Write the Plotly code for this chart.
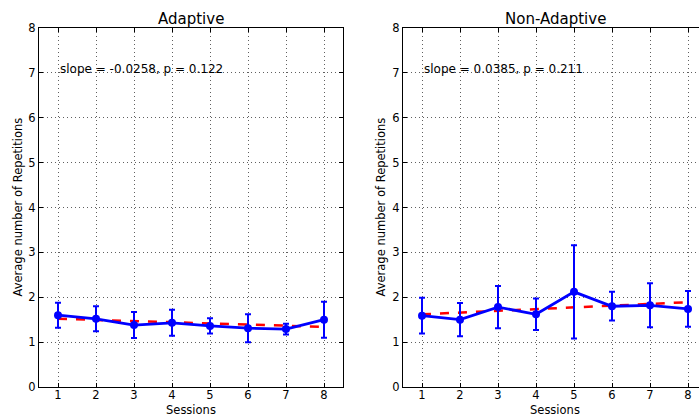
import plotly.graph_objects as go

sessions = [1, 2, 3, 4, 5, 6, 7, 8]

adaptive_mean = [1.60, 1.52, 1.38, 1.43, 1.36, 1.31, 1.29, 1.50]
adaptive_err = [0.28, 0.28, 0.29, 0.29, 0.17, 0.31, 0.12, 0.40]
adaptive_fit_x = [1, 8]
adaptive_fit_y = [1.52, 1.34]
adaptive_text = "slope = -0.0258, p = 0.122"

nonadaptive_mean = [1.59, 1.50, 1.78, 1.62, 2.12, 1.80, 1.82, 1.74]
nonadaptive_err = [0.40, 0.37, 0.47, 0.35, 1.04, 0.32, 0.49, 0.40]
nonadaptive_fit_x = [1, 8]
nonadaptive_fit_y = [1.62, 1.89]
nonadaptive_text = "slope = 0.0385, p = 0.211"

titles = ["Adaptive", "Non-Adaptive"]
x_label = "Sessions"
y_label = "Average number of Repetitions"
y_ticks = [0, 1, 2, 3, 4, 5, 6, 7, 8]

FONT = "DejaVu Sans"
BLUE = "#0000ff"
RED = "#ff0000"

fig = go.Figure()

panels = [
    ("x", "y", adaptive_mean, adaptive_err, adaptive_fit_x, adaptive_fit_y, adaptive_text, -13),
    ("x2", "y2", nonadaptive_mean, nonadaptive_err, nonadaptive_fit_x, nonadaptive_fit_y, nonadaptive_text, -14),
]

for xa, ya, mean, err, fx, fy, txt, _s in panels:
    fig.add_trace(go.Scatter(
        x=fx, y=fy, mode="lines", xaxis=xa, yaxis=ya,
        line=dict(color=RED, width=2.5, dash="dash"), showlegend=False,
    ))
    fig.add_trace(go.Scatter(
        x=sessions, y=mean, mode="lines+markers", xaxis=xa, yaxis=ya,
        line=dict(color=BLUE, width=2.8),
        marker=dict(color=BLUE, size=8),
        error_y=dict(type="data", array=err, visible=True, color=BLUE, thickness=2, width=3),
        showlegend=False,
    ))

axis_common = dict(
    showgrid=True, gridcolor="#606060", griddash="1px,3px", gridwidth=1,
    zeroline=False, showline=True, linecolor="black", linewidth=1,
    ticks="inside", ticklen=4, tickcolor="black",
    tickfont=dict(family=FONT, size=11.5, color="black"),
)

fig.update_layout(
    width=699, height=416,
    margin=dict(l=39, r=0, t=28, b=29),
    paper_bgcolor="white", plot_bgcolor="white",
    font=dict(family=FONT, color="black"),
    xaxis=dict(domain=[0, 304 / 660], range=[0.5, 8.5], tickvals=sessions,
               mirror="ticks", anchor="y", ticklabelstandoff=-3, **axis_common),
    yaxis=dict(domain=[0, 1], range=[0, 8], tickvals=y_ticks,
               mirror="ticks", anchor="x", **axis_common),
    xaxis2=dict(domain=[364 / 660, 1], range=[0.5, 0.5 + 296 / 38.0], tickvals=sessions,
                mirror="ticks", anchor="y2", ticklabelstandoff=-3, **axis_common),
    yaxis2=dict(domain=[0, 1], range=[0, 8], tickvals=y_ticks,
                anchor="x2", **axis_common),
)

annotations = []
for i, (xa, ya, *_rest) in enumerate(panels):
    txt = _rest[-2]
    ylab_shift = _rest[-1]
    annotations.append(dict(
        x=1, y=7, xref=xa, yref=ya, text=txt, showarrow=False,
        xanchor="left", yanchor="bottom", yshift=-5,
        font=dict(family=FONT, size=12, color="black"),
    ))
    annotations.append(dict(
        x=4.5, y=1, xref=xa, yref="paper", text=titles[i], showarrow=False,
        xanchor="center", yanchor="bottom", yshift=-2,
        font=dict(family=FONT, size=15, color="black"),
    ))
    annotations.append(dict(
        x=4.5, y=0, xref=xa, yref="paper", text=x_label, showarrow=False,
        xanchor="center", yanchor="top", yshift=-13.5,
        font=dict(family=FONT, size=11.5, color="black"),
    ))
    annotations.append(dict(
        x=0, y=0.5, xref=xa + " domain", yref="paper", text=y_label, showarrow=False,
        xanchor="right", yanchor="middle", xshift=ylab_shift, textangle=-90,
        font=dict(family=FONT, size=11.5, color="black"),
    ))
fig.update_layout(annotations=annotations)

fig.write_html(
    "out.html",
    config={"displayModeBar": False},
    post_script="document.body.style.margin='0';document.body.style.overflow='hidden';",
)
